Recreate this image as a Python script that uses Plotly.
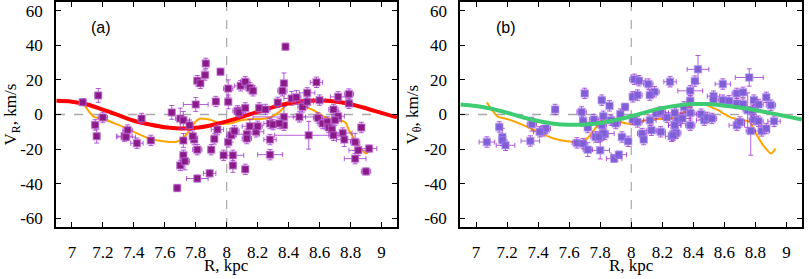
import plotly.graph_objects as go

# ---------------- data ----------------
# Panel (a): V_R
ra_R = [7.07, 7.17, 7.20, 7.15, 7.16, 7.45, 7.34, 7.36, 7.35, 7.42, 7.51, 7.645, 7.70, 7.72, 7.76,
        7.72, 7.72, 7.70, 7.73, 7.68, 7.81, 7.81, 7.79, 7.78, 7.81, 7.83, 7.865, 7.96, 7.86, 7.80,
        7.93, 8.01, 8.01, 7.90, 7.92, 7.94, 7.89, 7.98, 8.04, 8.04, 8.12, 8.01, 8.03, 8.05, 8.13,
        8.13, 8.15, 8.19, 8.20, 8.28, 8.28, 8.28, 8.30, 8.07, 8.08, 8.12, 8.21, 8.09, 8.12, 8.15,
        8.17, 8.25, 8.33, 8.38, 8.37, 8.36, 8.42, 8.45, 8.49, 8.52, 8.52, 8.58, 8.60, 8.47, 8.37,
        8.37, 8.34, 8.53, 8.59, 8.62, 8.65, 8.66, 8.68, 8.69, 8.69, 8.72, 8.72, 8.79, 8.79, 8.75,
        8.76, 8.83, 8.85, 8.83, 8.92, 8.87, 8.90, 8.70]
va_V = [7.1, 11.0, -1.7, -6.0, -12.5, -2.3, -12.5, -9.0, -13.0, -16.6, -15.0, 1.2, -2.3, -3.3, -6.2,
        -15.0, -23.6, -29.4, -27.0, -42.5, -37.0, -20.3, -14.5, -12.5, 19.5, 18.0, 29.5, 24.7, 22.8, 5.8,
        7.5, 15.0, 7.3, -20.3, -14.1, -8.7, -34.0, -23.6, -23.6, -29.4, -31.7, -15.9, -12.0, -9.5, -11.4,
        -13.9, -6.8, -10.0, -6.8, -23.2, -14.5, -5.2, -5.8, 2.1, 1.2, 3.8, 3.8, 16.6, 18.9, 15.4,
        13.7, 2.9, 7.0, 39.2, 18.0, 13.7, 9.3, 9.9, 4.4, 12.5, 7.3, 18.6, 8.3, -1.4, -1.4,
        -6.2, -5.2, -12.0, -2.0, -5.2, -4.3, -7.5, -8.7, -12.0, 2.9, -1.0, 10.2, 11.8, 6.4, -10.7,
        -14.5, -15.9, -20.7, -25.5, -19.7, -7.5, -32.9, -3.3]
ea_R = [0.02, 0.02, 0.03, 0.02, 0.02, 0.02, 0.05, 0.03, 0.06, 0.04, 0.02, 0.02, 0.03, 0.04, 0.02,
        0.02, 0.02, 0.02, 0.03, 0.02, 0.07, 0.03, 0.02, 0.02, 0.02, 0.02, 0.02, 0.02, 0.02, 0.08,
        0.02, 0.03, 0.02, 0.02, 0.02, 0.04, 0.04, 0.02, 0.07, 0.02, 0.02, 0.02, 0.03, 0.03, 0.08,
        0.03, 0.05, 0.05, 0.03, 0.08, 0.04, 0.04, 0.03, 0.03, 0.03, 0.02, 0.02, 0.04, 0.03, 0.03,
        0.02, 0.03, 0.02, 0.02, 0.02, 0.03, 0.05, 0.03, 0.03, 0.05, 0.04, 0.04, 0.04, 0.04, 0.20,
        0.02, 0.02, 0.22, 0.03, 0.03, 0.03, 0.03, 0.02, 0.03, 0.03, 0.04, 0.05, 0.03, 0.02, 0.06,
        0.05, 0.03, 0.06, 0.07, 0.05, 0.02, 0.03, 0.04]
ea_V = [2, 4, 3, 3, 4, 3, 3, 3, 2, 3, 3, 4, 6, 5, 3,
        4, 3, 3, 5, 2, 2, 3, 3, 3, 3, 3, 3, 2, 3, 4,
        3, 5, 4, 3, 3, 3, 2, 3, 3, 4, 3, 3, 4, 3, 3,
        3, 4, 3, 3, 3, 3, 3, 3, 3, 3, 3, 3, 3, 3, 3,
        3, 3, 3, 2, 6, 3, 4, 4, 3, 3, 3, 3, 3, 3, 6,
        3, 3, 8, 3, 3, 3, 3, 3, 3, 3, 3, 3, 3, 3, 3,
        4, 5, 3, 3, 2, 3, 2, 3]

# Panel (b): V_theta
rb_R = [7.70, 7.81, 7.51, 7.68, 7.69, 7.76, 7.15, 7.36, 7.43, 7.45, 7.17, 7.07, 7.17, 7.19, 7.35,
        7.41, 7.65, 7.69, 7.72, 7.80, 7.77, 7.81, 7.83, 7.86, 7.96, 7.82, 7.87, 7.81, 7.72, 7.90,
        7.93, 7.82, 7.79, 7.89, 7.92, 7.94, 7.98, 8.02, 8.05, 8.01, 8.04, 8.11, 8.15, 8.12, 8.25,
        8.01, 8.04, 8.07, 8.08, 8.12, 8.13, 8.19, 8.16, 8.19, 8.26, 8.28, 8.30, 8.23, 8.43, 8.41,
        8.38, 8.38, 8.34, 8.59, 8.76, 8.53, 8.53, 8.59, 8.63, 8.68, 8.72, 8.68, 8.72, 8.75, 8.79,
        8.82, 8.87, 8.90, 8.28, 8.33, 8.38, 8.45, 8.47, 8.49, 8.52, 8.28, 8.38, 8.29, 8.27, 8.68,
        8.70, 8.79, 8.82, 8.92, 8.77, 8.84, 8.87, 8.78]
vb_V = [12.2, 8.3, 2.9, 1.5, -3.7, -2.9, -7.2, -5.6, -9.5, -8.1, -13.0, -15.9, -14.9, -17.8, -15.3,
        -10.0, -16.4, -16.8, -20.3, -20.7, -13.0, -12.0, -11.4, 5.0, 4.4, -1.0, -3.3, -6.2, -7.5, -5.2,
        0.2, -11.0, -13.0, -25.5, -23.2, -13.0, -15.5, 20.3, 19.5, 10.2, 11.2, 17.6, 13.1, 11.2, 18.9,
        -2.9, -4.3, -11.0, -14.5, -3.3, -9.1, -10.0, 0.6, 1.5, -12.6, -6.2, -3.3, -1.7, 26.1, 19.3,
        13.7, 7.9, 4.4, 17.6, 21.4, 10.6, 8.7, 8.3, 7.9, 12.2, 12.8, 6.4, 6.0, 2.5, 8.3,
        5.8, 9.9, 5.4, 0.9, -2.3, 0.9, 0.2, -3.3, -1.7, -2.3, -6.2, -6.2, -10.7, -12.0, -6.2,
        -4.3, -2.9, -3.9, -3.9, -9.5, -9.5, -8.1, 2.5]
eb_R = [0.02, 0.02, 0.02, 0.03, 0.02, 0.03, 0.02, 0.03, 0.03, 0.03, 0.02, 0.05, 0.02, 0.06, 0.06,
        0.04, 0.03, 0.02, 0.03, 0.06, 0.03, 0.02, 0.02, 0.02, 0.02, 0.02, 0.02, 0.03, 0.02, 0.03,
        0.02, 0.07, 0.03, 0.05, 0.05, 0.02, 0.02, 0.03, 0.04, 0.02, 0.03, 0.03, 0.03, 0.02, 0.04,
        0.02, 0.03, 0.03, 0.02, 0.04, 0.03, 0.03, 0.02, 0.03, 0.04, 0.04, 0.02, 0.03, 0.07, 0.02,
        0.08, 0.02, 0.05, 0.05, 0.09, 0.04, 0.02, 0.03, 0.02, 0.03, 0.02, 0.03, 0.02, 0.03, 0.02,
        0.03, 0.02, 0.03, 0.04, 0.05, 0.03, 0.03, 0.05, 0.04, 0.03, 0.04, 0.03, 0.03, 0.02, 0.05,
        0.03, 0.03, 0.03, 0.04, 0.03, 0.05, 0.02, 0.03]
eb_V = [3, 3, 3, 3, 3, 3, 3, 4, 3, 3, 5, 3, 3, 3, 3,
        3, 3, 3, 4, 5, 3, 3, 3, 3, 2, 3, 3, 3, 3, 3,
        3, 3, 3, 2, 2, 3, 3, 3, 3, 3, 3, 3, 3, 3, 3,
        3, 3, 3, 3, 3, 3, 3, 3, 3, 3, 3, 3, 3, 8, 3,
        3, 3, 3, 3, 5, 3, 3, 3, 3, 3, 3, 3, 3, 10, 3,
        3, 3, 3, 3, 3, 3, 3, 3, 3, 3, 3, 3, 3, 3, 3,
        3, 3, 3, 3, 14, 3, 3, 3]

# model curves
red_R = [6.9, 7.0, 7.1, 7.2, 7.3, 7.4, 7.5, 7.6, 7.7, 7.8, 7.9, 8.0, 8.1, 8.2, 8.3, 8.4, 8.5,
         8.6, 8.7, 8.8, 8.9, 9.0, 9.1]
red_V = [7.9, 7.4, 5.8, 2.8, -0.4, -3.6, -5.7, -7.4, -8.1, -7.7, -6.2, -4.0, -1.4, 1.6, 4.3,
         6.5, 7.8, 8.1, 7.5, 5.9, 3.6, 0.9, -1.7]
green_R = [6.9, 7.0, 7.1, 7.2, 7.3, 7.4, 7.5, 7.6, 7.7, 7.8, 7.9, 8.0, 8.1, 8.2, 8.3, 8.4, 8.5,
           8.6, 8.7, 8.8, 8.9, 9.0, 9.1]
green_V = [5.8, 4.9, 3.3, 1.0, -1.6, -3.8, -5.3, -5.9, -5.8, -4.9, -3.2, -1.0, 1.5, 3.7, 5.2,
           6.0, 6.0, 5.1, 4.0, 2.5, 0.8, -1.1, -2.9]
orange_R = [7.07, 7.10, 7.14, 7.20, 7.30, 7.40, 7.50, 7.60, 7.675, 7.72, 7.76, 7.80, 7.83, 7.88,
            7.97, 8.02, 8.08, 8.15, 8.22, 8.28, 8.34, 8.385, 8.43, 8.47, 8.52, 8.56, 8.60, 8.64,
            8.70, 8.75, 8.77, 8.79, 8.82, 8.85, 8.88, 8.90, 8.93]
orange_V = [7.0, 3.0, -1.2, -2.6, -6.0, -10.0, -13.9, -15.6, -15.8, -13.5, -9.1, -4.0, -2.3, -2.8,
            -5.2, -5.2, -3.6, -2.7, -2.6, -1.7, 1.5, 5.4, 6.2, 6.2, 4.0, 2.5, 0.3, -1.7,
            -3.0, -3.8, -4.9, -9.1, -13.5, -17.8, -21.0, -22.6, -19.7]

x_ticks = [7, 7.2, 7.4, 7.6, 7.8, 8, 8.2, 8.4, 8.6, 8.8, 9]
x_tick_text = ["7", "7.2", "7.4", "7.6", "7.8", "8", "8.2", "8.4", "8.6", "8.8", "9"]
y_ticks = [-60, -40, -20, 0, 20, 40, 60]
y_tick_text = ["-60", "-40", "-20", "0", "20", "40", "60"]

# ---------------- figure ----------------
SERIF = "Liberation Serif"
fig = go.Figure()

err_col = "rgba(160,50,210,0.8)"

# panel a
fig.add_trace(go.Scatter(x=orange_R, y=orange_V, mode="lines", line=dict(color="#FFA500", width=2, shape="spline", smoothing=0.6),
                         xaxis="x", yaxis="y", hoverinfo="skip"))
fig.add_trace(go.Scatter(x=red_R, y=red_V, mode="lines", line=dict(color="#FF0000", width=4, shape="spline"),
                         xaxis="x", yaxis="y", hoverinfo="skip"))
fig.add_trace(go.Scatter(x=ra_R, y=va_V, mode="markers",
                         marker=dict(symbol="square", size=7, color="#8B1A89",
                                     line=dict(color="rgba(190,110,210,0.55)", width=1.5)),
                         error_x=dict(type="data", array=ea_R, color=err_col, thickness=1, width=2.5),
                         error_y=dict(type="data", array=ea_V, color=err_col, thickness=1, width=2.5),
                         xaxis="x", yaxis="y"))

# panel b
fig.add_trace(go.Scatter(x=orange_R, y=orange_V, mode="lines", line=dict(color="#FFA500", width=2, shape="spline", smoothing=0.6),
                         xaxis="x2", yaxis="y2", hoverinfo="skip"))
fig.add_trace(go.Scatter(x=rb_R, y=vb_V, mode="markers",
                         marker=dict(symbol="square", size=7, color="#7F5ED6",
                                     line=dict(color="rgba(160,130,235,0.55)", width=1.5)),
                         error_x=dict(type="data", array=eb_R, color=err_col, thickness=1, width=2.5),
                         error_y=dict(type="data", array=eb_V, color=err_col, thickness=1, width=2.5),
                         xaxis="x2", yaxis="y2"))
fig.add_trace(go.Scatter(x=green_R, y=green_V, mode="lines", line=dict(color="#3FCB73", width=4, shape="spline"),
                         xaxis="x2", yaxis="y2", hoverinfo="skip"))

axis_common = dict(showgrid=False, zeroline=False, showline=True, linecolor="black", linewidth=1.5,
                   mirror="ticks", ticks="inside", ticklen=5, tickwidth=1.2, tickcolor="black",
                   automargin=False,
                   tickfont=dict(family=SERIF, size=17, color="black"))

fig.update_layout(
    width=809, height=279,
    margin=dict(l=56, r=7, t=2, b=52, autoexpand=False),
    paper_bgcolor="white", plot_bgcolor="white",
    showlegend=False,
    xaxis=dict(domain=[0, 0.457], range=[6.897, 9.1], tickvals=x_ticks, ticktext=x_tick_text,
               anchor="y", ticklabelstandoff=9, **axis_common),
    yaxis=dict(domain=[0, 1], range=[-65, 65], tickvals=y_ticks, ticktext=y_tick_text,
               anchor="x", ticklabelstandoff=8, **axis_common),
    xaxis2=dict(domain=[0.5416, 1], range=[6.897, 9.1], tickvals=x_ticks, ticktext=x_tick_text,
                anchor="y2", ticklabelstandoff=9, **axis_common),
    yaxis2=dict(domain=[0, 1], range=[-65, 65], tickvals=y_ticks, ticktext=y_tick_text,
                anchor="x2", ticklabelstandoff=8, **axis_common),
)

# dashed reference lines
for xr, yr in [("x", "y"), ("x2", "y2")]:
    fig.add_shape(type="line", xref=xr, yref=yr + " domain", x0=8, x1=8, y0=0, y1=1,
                  line=dict(color="#A8A8A8", width=1.2, dash="dash"), layer="below")
    fig.add_shape(type="line", xref=xr + " domain", yref=yr, x0=0, x1=1, y0=0, y1=0,
                  line=dict(color="#A8A8A8", width=1.5, dash="dash"), layer="below")

ann_font = dict(family=SERIF, size=17, color="black")
fig.add_annotation(text="V<sub>R</sub>, km/s", xref="paper", yref="paper", x=-0.059, y=0.5,
                   textangle=-90, showarrow=False, font=ann_font, xanchor="center", yanchor="middle")
fig.add_annotation(text="V<sub>θ</sub>, km/s", xref="paper", yref="paper", x=0.4786, y=0.5,
                   textangle=-90, showarrow=False, font=ann_font, xanchor="center", yanchor="middle")
fig.add_annotation(text="R, kpc", xref="paper", yref="paper", x=(226.5 - 56) / 746, y=-0.172,
                   showarrow=False, font=ann_font, xanchor="center", yanchor="middle")
fig.add_annotation(text="R, kpc", xref="paper", yref="paper", x=(631 - 56) / 746, y=-0.172,
                   showarrow=False, font=ann_font, xanchor="center", yanchor="middle")
fig.add_annotation(text="(a)", xref="paper", yref="paper", x=(101 - 56) / 746, y=(227 - 27) / 225,
                   showarrow=False, font=dict(family="Liberation Sans", size=16, color="black"),
                   xanchor="center", yanchor="middle")
fig.add_annotation(text="(b)", xref="paper", yref="paper", x=(506 - 56) / 746, y=(227 - 27) / 225,
                   showarrow=False, font=dict(family="Liberation Sans", size=16, color="black"),
                   xanchor="center", yanchor="middle")

fig.write_html("out.html", config={"displayModeBar": False},
               post_script="document.body.style.margin='0';document.body.style.overflow='hidden';")
